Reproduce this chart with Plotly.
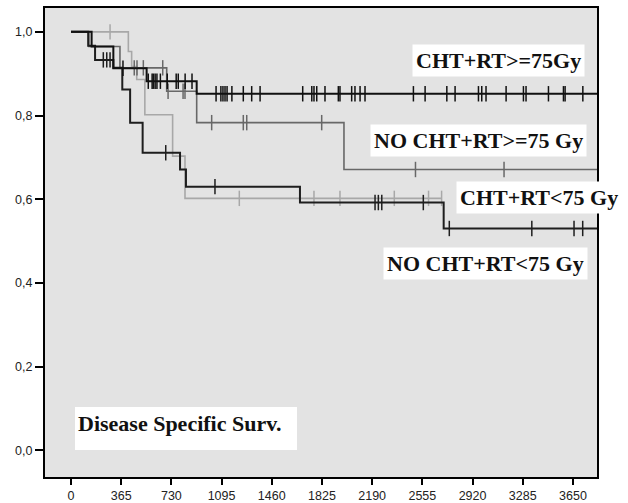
import numpy as np
import plotly.graph_objects as go

# ---------------- data ----------------
x_ticks = [0, 365, 730, 1095, 1460, 1825, 2190, 2555, 2920, 3285, 3650]
y_ticks = [0.0, 0.2, 0.4, 0.6, 0.8, 1.0]

# CHT+RT>=75Gy (black)
a_times = [0, 150, 308, 550, 914, 3825]
a_surv = [1.0, 0.965, 0.913, 0.882, 0.852, 0.852]
a_cens = [378, 562, 590, 600, 612, 625, 650, 700, 765, 780, 830, 880,
          1055, 1090, 1105, 1120, 1135, 1170, 1253, 1314, 1375, 1685, 1751,
          1767, 1787, 1847, 1944, 1956, 2041, 2065, 2102, 2138, 2490, 2575,
          2733, 2793, 2963, 2987, 3018, 3164, 3290, 3309, 3472, 3581, 3593, 3722]

# dark curve ending at 0.53
b_times = [0, 125, 175, 308, 373, 430, 521, 793, 836, 1665, 2710, 3825]
b_surv = [1.0, 0.967, 0.933, 0.914, 0.862, 0.783, 0.711, 0.671, 0.630, 0.592, 0.530, 0.530]
b_cens = [235, 260, 284, 689, 1047, 2211, 2235, 2260, 2562, 2751, 3351, 3658, 3721]

# NO CHT+RT>=75 Gy (medium grey)
c_times = [0, 130, 356, 696, 914, 1985, 3825]
c_surv = [1.0, 0.965, 0.914, 0.858, 0.783, 0.671, 0.671]
c_cens = [460, 480, 526, 667, 706, 815, 829, 1023, 1253, 1278, 1823, 2505, 3149]

# light grey curve ending at 0.60
d_times = [0, 417, 441, 478, 537, 739, 829, 2695]
d_surv = [1.0, 0.953, 0.917, 0.886, 0.802, 0.703, 0.602, 0.602]
d_cens = [284, 1224, 1767, 1956, 2351, 2600, 2695]

labels = ["CHT+RT>=75Gy", "NO CHT+RT>=75 Gy", "CHT+RT<75 Gy", "NO CHT+RT<75 Gy"]
panel_title = "Disease Specific Surv."

# ---------------- figure ----------------
fig = go.Figure()


def step_val(times, surv, t):
    i = np.searchsorted(np.array(times), t, side="right") - 1
    return surv[i]


curves = [
    (d_times, d_surv, d_cens, "#a8a8a8", 1.6),
    (c_times, c_surv, c_cens, "#686868", 1.6),
    (b_times, b_surv, b_cens, "#1e1e1e", 2.0),
    (a_times, a_surv, a_cens, "#111111", 2.0),
]
for times, surv, cens, col, w in curves:
    fig.add_trace(go.Scatter(x=times, y=surv, mode="lines",
                             line=dict(color=col, width=w, shape="hv"),
                             hoverinfo="skip"))
    fig.add_trace(go.Scatter(x=cens, y=[step_val(times, surv, t) for t in cens],
                             mode="markers",
                             marker=dict(symbol="line-ns", size=11,
                                         line=dict(color=col, width=1.5)),
                             hoverinfo="skip"))

L, R, T, B = 45, 597, 8, 477
W, H = 628, 503


def px(x):
    return (x - L) / (R - L)


def py(y):
    return 1 - (y - T) / (B - T)


lab_font = dict(family="Liberation Serif", size=22, color="#111111")
lab_pos = [(498, 60), (478, 140), (539, 197), (485, 263)]
for text, (xx, yy) in zip(labels, lab_pos):
    fig.add_annotation(x=px(xx), y=py(yy), xref="paper", yref="paper",
                       text="<b>%s</b>" % text, showarrow=False,
                       font=lab_font, bgcolor="white", borderpad=3,
                       xanchor="center", yanchor="middle")

fig.add_shape(type="rect", xref="paper", yref="paper",
              x0=px(75), x1=px(297), y0=py(450), y1=py(407),
              fillcolor="white", line=dict(width=0), layer="below")
fig.add_annotation(x=px(76), y=py(423), xref="paper", yref="paper",
                   text="<b>%s</b>" % panel_title, showarrow=False,
                   font=lab_font, xanchor="left", yanchor="middle")

axis_common = dict(showline=True, linecolor="black", linewidth=2, mirror=True,
                   ticks="outside", tickwidth=2, tickcolor="black",
                   showgrid=False, zeroline=False, automargin=False,
                   tickfont=dict(family="Liberation Sans", size=12.5, color="#222222"))

fig.update_layout(
    width=W, height=H,
    margin=dict(l=L, r=W - R, t=T, b=H - B),
    paper_bgcolor="white", plot_bgcolor="#e3e3e3",
    showlegend=False, separators=",.",
    xaxis=dict(range=[-189, 3825], tickvals=x_ticks, ticklen=6,
               ticktext=[str(v) for v in x_ticks], **axis_common),
    yaxis=dict(range=[-0.064, 1.057], tickvals=y_ticks, tickformat=".1f",
               ticklen=8, **axis_common),
)

fig.write_html("out.html")
